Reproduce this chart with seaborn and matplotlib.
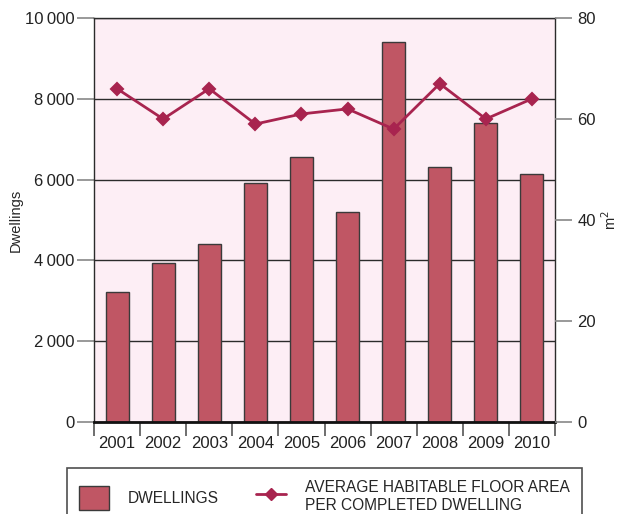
import matplotlib
matplotlib.use("Agg")
import matplotlib.pyplot as plt
import matplotlib.patches as mpatches
import matplotlib.lines as mlines
import numpy as np
import pandas as pd
import seaborn as sns

years = ["2001", "2002", "2003", "2004", "2005", "2006", "2007", "2008", "2009", "2010"]
dwellings = [3220, 3940, 4410, 5920, 6560, 5190, 9410, 6320, 7390, 6150]
avg_area = [66, 60, 66, 59, 61, 62, 58, 67, 60, 64]
left_ticks = [0, 2000, 4000, 6000, 8000, 10000]
left_labels = ["0", "2\u2009000", "4\u2009000", "6\u2009000", "8\u2009000", "10\u2009000"]
right_ticks = [0, 20, 40, 60, 80]

bar_color = "#c05664"
line_color = "#a8244f"
bg_color = "#fdeef5"
dark = "#2b2b2b"

sns.set_theme(style="white")
plt.rcParams["font.family"] = ["Liberation Sans", "DejaVu Sans"]

df = pd.DataFrame({"Year": years, "Dwellings": dwellings, "Area": avg_area})

fig = plt.figure(figsize=(6.18, 5.14), dpi=100)
ax = fig.add_axes([94 / 618, 1 - 422 / 514, (555 - 94) / 618, (422 - 18) / 514])
ax.set_facecolor(bg_color)

sns.barplot(data=df, x="Year", y="Dwellings", color=bar_color, saturation=1,
            width=0.5, edgecolor="#3a3a3a", linewidth=1.0, ax=ax, zorder=2)

ax.set_ylim(0, 10000)
ax.set_xlim(-0.5, 9.5)
ax.set_yticks(left_ticks)
ax.set_yticklabels(left_labels)
ax.yaxis.grid(True, color=dark, linewidth=1.0)
ax.set_axisbelow(True)
ax.set_xlabel("")
ax.set_ylabel("Dwellings", fontsize=10.5)
ax.yaxis.set_label_coords(-0.155, 0.5)

# year labels centred, tick marks on category boundaries
ax.set_xticks(range(len(years)))
ax.set_xticklabels(years)
ax.set_xticks(np.arange(-0.5, len(years)), minor=True)
ax.tick_params(axis="x", which="major", length=0, pad=10, labelsize=12, colors="#222222")
ax.tick_params(axis="x", which="minor", bottom=True, length=10, width=1.2, color="#555555")
ax.tick_params(axis="y", left=True, length=12, width=1.2, color="#888888", labelsize=12,
               labelcolor="#222222", pad=2)

for side in ["left", "right", "top"]:
    ax.spines[side].set_color(dark)
    ax.spines[side].set_linewidth(1.0)
ax.spines["bottom"].set_color("#111111")
ax.spines["bottom"].set_linewidth(2.0)

ax2 = ax.twinx()
sns.pointplot(data=df, x="Year", y="Area", color=line_color, markers="D",
              markersize=6, linewidth=2, ax=ax2)
ax2.set_ylim(0, 80)
ax2.set_xlim(-0.5, 9.5)
ax2.set_yticks(right_ticks)
ax2.set_ylabel("m$^2$", fontsize=10.5)
ax2.yaxis.set_label_coords(1.098, 0.5)
ax2.set_xlabel("")
ax2.tick_params(axis="y", right=True, length=12, width=1.2, color="#888888", labelsize=12,
                labelcolor="#222222", pad=4)
for s in ax2.spines.values():
    s.set_visible(False)
ax2.grid(False)

h1 = mpatches.Patch(facecolor=bar_color, edgecolor="#3a3a3a", label="DWELLINGS")
h2 = mlines.Line2D([], [], color=line_color, marker="D", markersize=6, linewidth=2,
                   label="AVERAGE HABITABLE FLOOR AREA\nPER COMPLETED DWELLING")
leg = fig.legend(handles=[h1, h2], loc="upper left", ncol=2,
                 bbox_to_anchor=(67 / 618, -0.06, (582 - 67) / 618, 1 - 468 / 514 + 0.06),
                 mode="expand", borderaxespad=0, fancybox=False, frameon=True,
                 fontsize=11.2, handlelength=1.9, handleheight=2.0, borderpad=0.8,
                 handletextpad=1.2, columnspacing=3, labelspacing=0.2)
leg.get_frame().set_edgecolor("#222222")
leg.get_frame().set_linewidth(1.2)

fig.savefig("out.png", dpi=100)
